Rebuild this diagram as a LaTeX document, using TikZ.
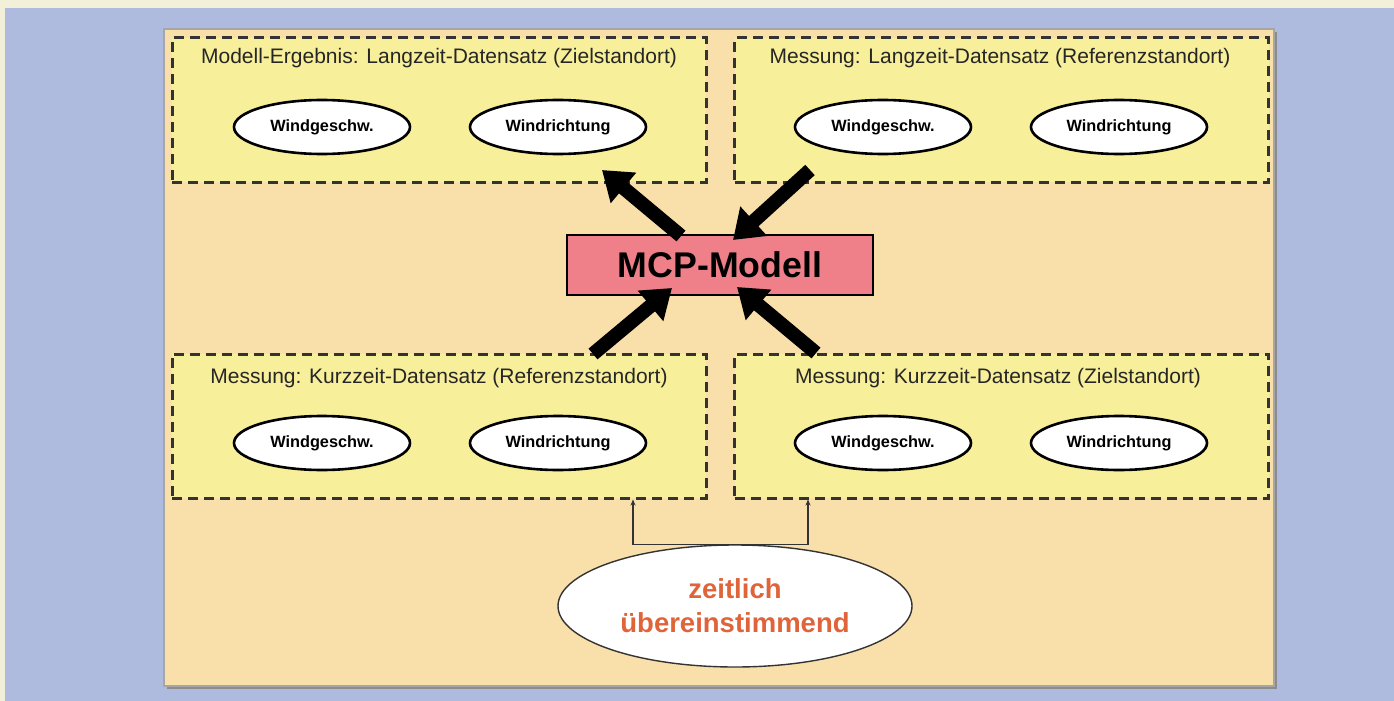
\documentclass[tikz,border=0pt]{standalone}
\usepackage{fontspec}
\setmainfont{Liberation Sans}
\usetikzlibrary{arrows.meta,shapes.geometric}
\definecolor{cream}{HTML}{F2F0D8}
\definecolor{panelblue}{HTML}{AEBBDE}
\definecolor{peach}{HTML}{F9DFAA}
\definecolor{boxyellow}{HTML}{F8EF9A}
\definecolor{mcppink}{HTML}{EF7F89}
\definecolor{warmred}{HTML}{E0643A}
\tikzset{
  groupbox/.style={draw=black!80, line width=3pt, dash pattern=on 10pt off 6pt,
    fill=boxyellow, minimum width=534pt, minimum height=144pt, inner sep=0pt},
  grouptitle/.style={font=\fontsize{21}{24}\selectfont, text=black!85, inner sep=0pt},
  field/.style={ellipse, draw=black, line width=2.6pt, fill=white,
    minimum width=176pt, minimum height=54pt, inner sep=0pt,
    font=\bfseries\fontsize{16.3}{19}\selectfont},
  bigarrow/.style={line width=14pt,
    -{Triangle[length=28pt,width=38pt]}},
  thinarrow/.style={draw=black!80, line width=1.3pt, -{Stealth[length=6pt,width=5pt]}}
}
\begin{document}
\begin{tikzpicture}[x=1pt,y=-1pt]
  % page background and panel
  \fill[cream] (0,0) rectangle (1394,701);
  \fill[panelblue] (5,8) rectangle (1394,701);
  \fill[black!45] (167,32) rectangle (1277,689);
  \path[fill=peach, draw=black!35, line width=1.5pt] (164,29) rectangle (1274,686);

  % data set groups
  \node[groupbox] (tl) at (439,110) {};
  \node[groupbox] (tr) at (1001.5,110) {};
  \node[groupbox] (bl) at (439,426) {};
  \node[groupbox] (br) at (1001.5,426) {};

  \node[grouptitle] (tlt) at (439,58) {Modell-Ergebnis: Langzeit-Datensatz (Zielstandort)};
  \node[grouptitle] (trt) at (1000,58) {Messung: Langzeit-Datensatz (Referenzstandort)};
  \node[grouptitle] (blt) at (439,378) {Messung: Kurzzeit-Datensatz (Referenzstandort)};
  \node[grouptitle] (brt) at (998,378) {Messung: Kurzzeit-Datensatz (Zielstandort)};

  \node[field] (tl1) at (322,127) {Windgeschw.};
  \node[field] (tl2) at (558,127) {Windrichtung};
  \node[field] (tr1) at (883,127) {Windgeschw.};
  \node[field] (tr2) at (1119,127) {Windrichtung};
  \node[field] (bl1) at (322,443) {Windgeschw.};
  \node[field] (bl2) at (558,443) {Windrichtung};
  \node[field] (br1) at (883,443) {Windgeschw.};
  \node[field] (br2) at (1119,443) {Windrichtung};

  % model
  \node[draw=black, line width=2.4pt, fill=mcppink, minimum width=306pt,
    minimum height=60pt, inner sep=0pt,
    font=\bfseries\fontsize{35.7}{40}\selectfont] (mcp) at (720,265) {MCP-Modell};

  % arrow ends
  \coordinate (tlin) at (602,170);
  \coordinate (trout) at (810,170);
  \coordinate (blout) at (593,354);
  \coordinate (brout) at (816,353);
  \coordinate (mtl) at (681,236);
  \coordinate (mtr) at (733,240);
  \coordinate (mbl) at (672,288);
  \coordinate (mbr) at (737,287);

  \draw[bigarrow] (mtl) -- (tlin);
  \draw[bigarrow] (trout) -- (mtr);
  \draw[bigarrow] (blout) -- (mbl);
  \draw[bigarrow] (brout) -- (mbr);

  % synchronisation
  \node[ellipse, draw=black!80, line width=1.4pt, fill=white,
    minimum width=354pt, minimum height=122pt, inner sep=0pt, align=center,
    text=warmred, font=\bfseries\fontsize{27.5}{34}\selectfont] (sync) at (735,606)
    {zeitlich\\übereinstimmend};
  \draw[thinarrow] (sync.north) -| ([xshift=194pt]bl.south);
  \draw[thinarrow] (sync.north) -| ([xshift=-193.5pt]br.south);
\end{tikzpicture}
\end{document}
